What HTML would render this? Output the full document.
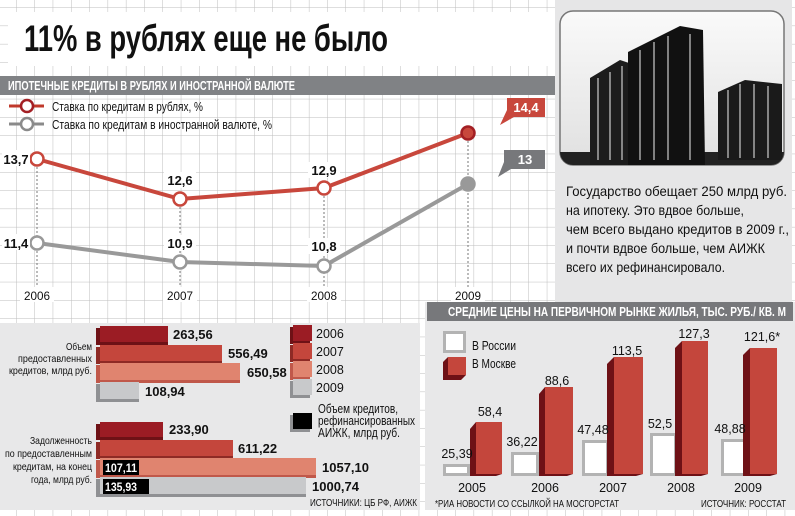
<!DOCTYPE html>
<html><head><meta charset="utf-8"><style>
body{margin:0;width:795px;height:516px;overflow:hidden;background:#fff}
svg{display:block}
text{font-family:"Liberation Sans",sans-serif}
.b{font-weight:bold}
</style></head><body>
<svg width="795" height="516" viewBox="0 0 795 516" xmlns="http://www.w3.org/2000/svg">
<defs>
<pattern id="g" x="16.1" y="7.3" width="18.3" height="18.3" patternUnits="userSpaceOnUse">
<path d="M0 0H18.3M0 0V18.3" stroke="#bdbdbd" stroke-width="1" fill="none"/>
</pattern>
<linearGradient id="sky" x1="0" y1="0" x2="0" y2="1"><stop offset="0" stop-color="#fafafa"/><stop offset="1" stop-color="#e0e0e0"/></linearGradient>
<clipPath id="ph"><rect x="560" y="11" width="224" height="154" rx="13"/></clipPath>
</defs>
<rect width="795" height="516" fill="url(#g)"/>
<!-- title -->
<rect x="8" y="12" width="549" height="54" fill="#fff"/>
<text x="24" y="51" class="b" font-size="37" fill="#111" textLength="364" lengthAdjust="spacingAndGlyphs">11% в рублях еще не было</text>
<rect x="0" y="76" width="557" height="19" fill="#808285"/>
<text x="8" y="90" class="b" font-size="12.5" fill="#fff" textLength="287" lengthAdjust="spacingAndGlyphs">ИПОТЕЧНЫЕ КРЕДИТЫ В РУБЛЯХ И ИНОСТРАННОЙ ВАЛЮТЕ</text>
<!-- legend -->
<line x1="9" y1="106" x2="44" y2="106" stroke="#c0392b" stroke-width="3"/><circle cx="27" cy="106" r="6" fill="#fff" stroke="#a31f24" stroke-width="2.5"/>
<text x="52" y="111" font-size="12.5" fill="#111" textLength="151" lengthAdjust="spacingAndGlyphs">Ставка по кредитам в рублях, %</text>
<line x1="9" y1="124" x2="44" y2="124" stroke="#8a8a8a" stroke-width="3"/><circle cx="27" cy="124" r="6" fill="#fff" stroke="#8a8a8a" stroke-width="2.5"/>
<text x="52" y="129" font-size="12.5" fill="#111" textLength="220" lengthAdjust="spacingAndGlyphs">Ставка по кредитам в иностранной валюте, %</text>
<!-- dotted verticals -->
<g stroke="#777" stroke-dasharray="2,2" stroke-width="1">
<line x1="37" y1="159" x2="37" y2="288"/><line x1="180" y1="199" x2="180" y2="288"/><line x1="324" y1="188" x2="324" y2="288"/><line x1="468" y1="133" x2="468" y2="288"/>
</g>
<polyline points="37,159 180,199 324,188 468,133" fill="none" stroke="#c8473c" stroke-width="4"/>
<polyline points="37,243 180,262 324,266 468,184" fill="none" stroke="#999" stroke-width="4"/>
<g stroke-width="2.5">
<circle cx="37" cy="159" r="6.5" fill="#fff" stroke="#c8473c"/><circle cx="180" cy="199" r="6.5" fill="#fff" stroke="#c8473c"/><circle cx="324" cy="188" r="6.5" fill="#fff" stroke="#c8473c"/><circle cx="468" cy="133" r="6.5" fill="#c8473c" stroke="#a31f24"/>
<circle cx="37" cy="243" r="6.5" fill="#fff" stroke="#999"/><circle cx="180" cy="262" r="6.5" fill="#fff" stroke="#999"/><circle cx="324" cy="266" r="6.5" fill="#fff" stroke="#999"/><circle cx="468" cy="184" r="6.5" fill="#999" stroke="#999"/>
</g>
<g class="b" font-size="13" fill="#111" text-anchor="middle">
<rect x="2" y="150" width="28" height="16" fill="#fff"/><text x="16" y="164">13,7</text>
<rect x="164" y="172" width="32" height="16" fill="#fff"/><text x="180" y="185">12,6</text>
<rect x="308" y="162" width="32" height="16" fill="#fff"/><text x="324" y="175">12,9</text>
<rect x="2" y="234" width="28" height="16" fill="#fff"/><text x="16" y="248">11,4</text>
<rect x="164" y="235" width="32" height="16" fill="#fff"/><text x="180" y="248">10,9</text>
<rect x="308" y="238" width="32" height="16" fill="#fff"/><text x="324" y="251">10,8</text>
</g>
<rect x="507" y="98" width="38" height="19" fill="#c8473c"/><path d="M507 110L514 117L500 125Z" fill="#c8473c"/>
<text x="526" y="112" class="b" font-size="13" fill="#fff" text-anchor="middle">14,4</text>
<rect x="504" y="150" width="41" height="19" fill="#77787b"/><path d="M504 162L511 169L498 177Z" fill="#77787b"/>
<text x="525" y="164" class="b" font-size="13" fill="#fff" text-anchor="middle">13</text>
<g font-size="12" fill="#111" text-anchor="middle">
<rect x="20" y="287" width="34" height="15" fill="#fff"/><text x="37" y="300" textLength="26" lengthAdjust="spacingAndGlyphs">2006</text>
<rect x="163" y="287" width="34" height="15" fill="#fff"/><text x="180" y="300" textLength="26" lengthAdjust="spacingAndGlyphs">2007</text>
<rect x="307" y="287" width="34" height="15" fill="#fff"/><text x="324" y="300" textLength="26" lengthAdjust="spacingAndGlyphs">2008</text>
<rect x="451" y="287" width="34" height="15" fill="#fff"/><text x="468" y="300" textLength="26" lengthAdjust="spacingAndGlyphs">2009</text>
</g>
<!-- right panel -->
<rect x="555" y="0" width="237" height="302" fill="#e6e6e7"/>
<rect x="560" y="11" width="224" height="154" rx="13" fill="url(#sky)" stroke="#777" stroke-width="1.5"/>
<g clip-path="url(#ph)">
<rect x="560" y="152" width="224" height="16" fill="#222"/>
<path d="M590 78L620 60L632 64V165H590Z" fill="#1c1c1c"/>
<path d="M628 52L680 26L703 30L705 165H628Z" fill="#111"/>
<path d="M718 92L745 80L782 84V160H718Z" fill="#1a1a1a"/>
<g stroke="#ccc" stroke-width="1.2">
<line x1="598" y1="78" x2="598" y2="160"/><line x1="610" y1="72" x2="610" y2="160"/><line x1="622" y1="66" x2="622" y2="160"/>
<line x1="640" y1="50" x2="640" y2="160"/><line x1="654" y1="42" x2="654" y2="160"/><line x1="668" y1="36" x2="668" y2="160"/><line x1="690" y1="34" x2="690" y2="160"/>
<line x1="728" y1="90" x2="728" y2="158"/><line x1="740" y1="84" x2="740" y2="158"/><line x1="754" y1="84" x2="754" y2="158"/><line x1="768" y1="86" x2="768" y2="158"/>
</g>
</g>
<g font-size="14" fill="#111">
<text x="566" y="196" textLength="221" lengthAdjust="spacingAndGlyphs">Государство обещает 250 млрд руб.</text>
<text x="566" y="215" textLength="178" lengthAdjust="spacingAndGlyphs">на ипотеку. Это вдвое больше,</text>
<text x="566" y="234" textLength="223" lengthAdjust="spacingAndGlyphs">чем  всего выдано кредитов в 2009 г.,</text>
<text x="566" y="253" textLength="199" lengthAdjust="spacingAndGlyphs">и почти вдвое больше, чем АИЖК</text>
<text x="566" y="272" textLength="159" lengthAdjust="spacingAndGlyphs">всего их рефинансировало.</text>
</g>
<!-- bottom left panel -->
<rect x="0" y="323" width="420" height="187" fill="#e8e8e9"/>
<g font-size="10.5" fill="#111">
<text x="66" y="350" textLength="26" lengthAdjust="spacingAndGlyphs">Объем</text>
<text x="18" y="362" textLength="74" lengthAdjust="spacingAndGlyphs">предоставленных</text>
<text x="9" y="374" textLength="83" lengthAdjust="spacingAndGlyphs">кредитов, млрд руб.</text>
<text x="30" y="444" textLength="62" lengthAdjust="spacingAndGlyphs">Задолженность</text>
<text x="5" y="457" textLength="87" lengthAdjust="spacingAndGlyphs">по предоставленным</text>
<text x="13" y="470" textLength="79" lengthAdjust="spacingAndGlyphs">кредитам, на конец</text>
<text x="31" y="483" textLength="61" lengthAdjust="spacingAndGlyphs">года, млрд руб.</text>
</g>
<!-- bars -->
<g>
<rect x="96" y="328" width="72" height="17" fill="#6e1116"/><rect x="100" y="326" width="68" height="16" fill="#9b1c24"/>
<rect x="96" y="347" width="126" height="17" fill="#8e2a25"/><rect x="100" y="345" width="122" height="16" fill="#c4463c"/>
<rect x="96" y="365" width="144" height="18" fill="#c0584a"/><rect x="100" y="363" width="140" height="17" fill="#e0846f"/>
<rect x="96" y="384" width="43" height="18" fill="#8f9093"/><rect x="100" y="382" width="39" height="17" fill="#c8c9cb"/>
<rect x="96" y="424" width="67" height="16" fill="#6e1116"/><rect x="100" y="422" width="63" height="15" fill="#9b1c24"/>
<rect x="96" y="442" width="137" height="17" fill="#8e2a25"/><rect x="100" y="440" width="133" height="16" fill="#c4463c"/>
<rect x="96" y="460" width="220" height="18" fill="#c0584a"/><rect x="100" y="458" width="216" height="17" fill="#e0846f"/>
<rect x="96" y="479" width="210" height="18" fill="#8f9093"/><rect x="100" y="477" width="206" height="17" fill="#c8c9cb"/>
<rect x="103" y="460" width="36" height="15" fill="#000"/><rect x="103" y="479" width="46" height="15" fill="#000"/>
</g>
<g class="b" font-size="13" fill="#111">
<text x="173" y="339">263,56</text><text x="228" y="358">556,49</text><text x="247" y="377">650,58</text><text x="145" y="396">108,94</text>
<text x="169" y="434">233,90</text><text x="238" y="453">611,22</text><text x="322" y="472">1057,10</text><text x="312" y="491">1000,74</text>
<text x="105" y="472" fill="#fff" font-size="12" textLength="32" lengthAdjust="spacingAndGlyphs">107,11</text><text x="105" y="491" fill="#fff" font-size="12" textLength="32" lengthAdjust="spacingAndGlyphs">135,93</text>
</g>
<g>
<rect x="290" y="327" width="20" height="17" fill="#6e1116"/><rect x="293" y="325" width="19" height="16" fill="#9b1c24"/>
<rect x="290" y="345" width="20" height="17" fill="#8e2a25"/><rect x="293" y="343" width="19" height="16" fill="#c4463c"/>
<rect x="290" y="363" width="20" height="17" fill="#c0584a"/><rect x="293" y="361" width="19" height="16" fill="#e0846f"/>
<rect x="290" y="381" width="20" height="17" fill="#8f9093"/><rect x="293" y="379" width="19" height="16" fill="#c8c9cb"/>
<rect x="290" y="415" width="20" height="17" fill="#8f9093"/><rect x="293" y="413" width="19" height="16" fill="#000"/>
</g>
<g font-size="12.5" fill="#111">
<text x="316" y="338">2006</text><text x="316" y="356">2007</text><text x="316" y="374">2008</text><text x="316" y="392">2009</text>
<text x="318" y="413" textLength="80" lengthAdjust="spacingAndGlyphs">Объем кредитов,</text>
<text x="318" y="425" textLength="97" lengthAdjust="spacingAndGlyphs">рефинансированных</text>
<text x="318" y="437" textLength="82" lengthAdjust="spacingAndGlyphs">АИЖК, млрд руб.</text>
</g>
<text x="310" y="506" font-size="10" fill="#111" textLength="107" lengthAdjust="spacingAndGlyphs">ИСТОЧНИКИ: ЦБ РФ, АИЖК</text>
<!-- bottom right panel -->
<rect x="425" y="302" width="370" height="208" fill="#e8e8e9"/>
<rect x="427" y="302" width="366" height="19" fill="#77787b"/>
<text x="448" y="316" class="b" font-size="12.5" fill="#fff" textLength="338" lengthAdjust="spacingAndGlyphs">СРЕДНИЕ ЦЕНЫ НА ПЕРВИЧНОМ РЫНКЕ ЖИЛЬЯ, ТЫС. РУБ./ КВ. М</text>
<rect x="444.5" y="332.5" width="20" height="19" fill="#fff" stroke="#b3b3b3" stroke-width="3"/>
<path d="M443 362L448 357H466V375L461 380H443Z" fill="#6e1116"/><rect x="448" y="357" width="18" height="18" fill="#c4463c"/>
<text x="472" y="350" font-size="12.5" fill="#111" textLength="44" lengthAdjust="spacingAndGlyphs">В России</text>
<text x="472" y="368" font-size="12.5" fill="#111" textLength="44" lengthAdjust="spacingAndGlyphs">В Москве</text>
<g fill="#fff" stroke="#b3b3b3" stroke-width="3">
<rect x="444.5" y="465.5" width="24" height="9"/><rect x="512.5" y="453.5" width="25" height="21"/><rect x="583.5" y="441.5" width="24" height="33"/><rect x="651.5" y="434.5" width="24" height="40"/><rect x="722.5" y="440.5" width="24" height="34"/>
</g>
<g>
<path d="M470 429L476 422H502V474L496 476H470Z" fill="#6e1116"/><rect x="476" y="422" width="26" height="52" fill="#c4463c"/>
<path d="M539 394L545 387H573V474L567 476H539Z" fill="#6e1116"/><rect x="545" y="387" width="28" height="87" fill="#c4463c"/>
<path d="M607 364L614 357H643V474L636 476H607Z" fill="#6e1116"/><rect x="614" y="357" width="29" height="117" fill="#c4463c"/>
<path d="M675 348L682 341H708V474L701 476H675Z" fill="#6e1116"/><rect x="682" y="341" width="26" height="133" fill="#c4463c"/>
<path d="M743 355L750 348H777V474L770 476H743Z" fill="#6e1116"/><rect x="750" y="348" width="27" height="126" fill="#c4463c"/>
</g>
<g font-size="12.5" fill="#111" text-anchor="middle">
<text x="457" y="458">25,39</text><text x="490" y="416">58,4</text>
<text x="522" y="446">36,22</text><text x="557" y="385">88,6</text>
<text x="593" y="434">47,48</text><text x="627" y="355">113,5</text>
<text x="660" y="428">52,5</text><text x="694" y="338">127,3</text>
<text x="730" y="433">48,88</text><text x="762" y="341">121,6*</text>
<text x="472" y="492">2005</text><text x="545" y="492">2006</text><text x="613" y="492">2007</text><text x="681" y="492">2008</text><text x="748" y="492">2009</text>
</g>
<text x="435" y="507" font-size="10" fill="#111" textLength="184" lengthAdjust="spacingAndGlyphs">*РИА НОВОСТИ СО ССЫЛКОЙ НА МОСГОРСТАТ</text>
<text x="701" y="507" font-size="10" fill="#111" textLength="85" lengthAdjust="spacingAndGlyphs">ИСТОЧНИК: РОССТАТ</text>
</svg>
</body></html>
